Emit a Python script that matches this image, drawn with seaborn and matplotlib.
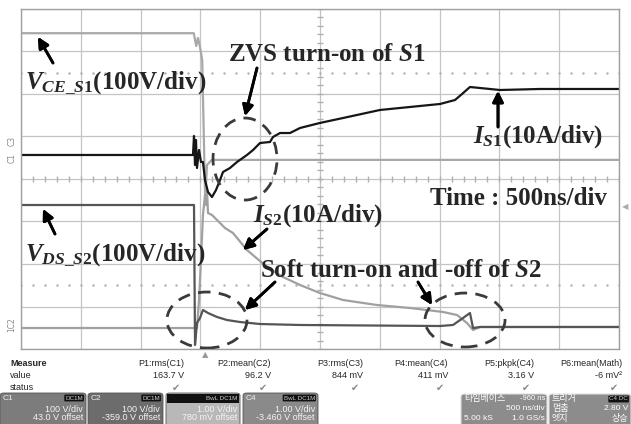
import numpy as np
import pandas as pd
import seaborn as sns
import matplotlib.pyplot as plt
from matplotlib.patches import Ellipse, FancyBboxPatch, Rectangle

# ---- trace data (x in time divisions 0..10, y in vertical divisions 0..8) ----
vce_t = [0, 2.89, 2.93, 2.96, 2.99, 3.03, 3.08, 3.11, 3.19, 10]
vce_v = [7.43, 7.43, 7.13, 7.32, 7.13, 6.80, 3.50, 4.33, 4.45, 4.45]

is1_t = [0, 2.876, 2.893, 2.910, 2.926, 2.943, 2.977, 3.010, 3.043, 3.077, 3.127, 3.194,
         3.261, 3.328, 3.378, 3.495, 3.612, 3.779, 3.880, 3.997, 4.164, 4.214, 4.331,
         4.498, 4.666, 4.997, 5.385, 6.003, 6.672, 7.007, 7.258, 7.375, 7.508, 7.676,
         8.010, 8.679, 10]
is1_v = [4.565, 4.565, 5.012, 4.329, 4.918, 4.259, 4.682, 4.400, 4.400, 3.976, 3.694, 3.576,
         3.741, 3.976, 4.165, 4.259, 4.400, 4.565, 4.682, 4.847, 4.871, 4.988, 5.082,
         5.082, 5.200, 5.318, 5.435, 5.624, 5.718, 5.765, 5.859, 6.000, 6.165, 6.141,
         6.094, 6.118, 6.118]

is2_t = [0, 2.943, 2.977, 3.010, 3.043, 3.077, 3.094, 3.110, 3.127, 3.194, 3.278, 3.411,
         3.545, 3.779, 4.114, 4.381, 4.666, 4.997, 5.385, 5.953, 6.505, 7.057, 7.291,
         7.458, 7.559, 7.676, 10]
is2_v = [0.494, 0.494, 1.153, 2.094, 3.153, 3.624, 3.388, 3.741, 3.200, 3.153, 3.035, 2.847,
         2.729, 2.329, 1.929, 1.694, 1.506, 1.318, 1.153, 1.035, 0.965, 0.871, 0.800,
         0.612, 0.447, 0.518, 0.518]

vds_t = [0, 2.893, 2.910, 2.943, 2.993, 3.043, 3.127, 3.278, 3.445, 3.662, 3.997, 4.666,
         7.007, 7.224, 7.391, 7.508, 7.559, 7.676, 10]
vds_v = [3.388, 3.388, 0.094, 0.612, 0.729, 0.918, 0.847, 0.753, 0.682, 0.635, 0.588, 0.565,
         0.541, 0.565, 0.729, 0.847, 0.494, 0.518, 0.518]

meas_head = ['P1:rms(C1)', 'P2:mean(C2)', 'P3:rms(C3)', 'P4:mean(C4)', 'P5:pkpk(C4)', 'P6:mean(Math)']
meas_val = ['163.7 V', '96.2 V', '844 mV', '411 mV', '3.16 V', '-6 mV²']

W, H = 631, 424
def fx(x):
    return x / W
def fy(y):
    return 1 - y / H

sns.set_style("white")
plt.rcParams['mathtext.fontset'] = 'custom'
plt.rcParams['mathtext.it'] = 'Liberation Serif:style=italic:weight=bold'
plt.rcParams['mathtext.rm'] = 'Liberation Serif:weight=bold'
plt.rcParams['mathtext.bf'] = 'Liberation Serif:weight=bold'

fig = plt.figure(figsize=(6.31, 4.24), dpi=100)
ax = fig.add_axes([fx(21), 75 / H, 598 / W, 340 / H])

# traces
sns.lineplot(x=vce_t, y=vce_v, ax=ax, color='#a8a8a8', lw=1.6, sort=False, estimator=None)
sns.lineplot(x=is2_t, y=is2_v, ax=ax, color='#a0a0a0', lw=1.6, sort=False, estimator=None)
sns.lineplot(x=vds_t, y=vds_v, ax=ax, color='#555555', lw=1.6, sort=False, estimator=None)
sns.lineplot(x=is1_t, y=is1_v, ax=ax, color='#161616', lw=1.6, sort=False, estimator=None)

ax.set_xlim(0, 10)
ax.set_ylim(0, 8)
ax.set_xticks(range(11))
ax.set_yticks(range(9))
ax.set_xticklabels([])
ax.set_yticklabels([])
ax.tick_params(length=0)
ax.grid(True, color='#c4c4c4', lw=0.9)
ax.set_axisbelow(True)
for s in ax.spines.values():
    s.set_color('#a0a0a0')
    s.set_linewidth(1.0)

# centre lines with minor ticks, dotted reference lines
mt = np.arange(0, 10.01, 0.2)
ax.plot(mt, np.full(len(mt), 4), ls='none', marker='|', ms=4, color='#b0b0b0', zorder=1)
mv = np.arange(0, 8.01, 0.2)
ax.plot(np.full(len(mv), 5), mv, ls='none', marker='_', ms=4, color='#b0b0b0', zorder=1)
for yy in [1.5, 6.5]:
    ax.plot(mt, np.full(len(mt), yy), ls='none', marker='.', ms=1.5, color='#b0b0b0', zorder=1)

# dashed ellipses
for cx, cy, ew, eh in [(3.746, 4.47, 1.07, 1.93), (3.110, 0.682, 1.338, 1.318), (7.425, 0.682, 1.338, 1.27)]:
    ax.add_patch(Ellipse((cx, cy), ew, eh, fill=False, ls=(0, (4.5, 3)), lw=2.0, color='#3a3a3a', zorder=5))

# annotations
serif = 'Liberation Serif'
def lab(x, y, s, size=18):
    fig.text(fx(x), fy(y), s, family=serif, weight='bold', fontsize=size, va='baseline', ha='left')

lab(25, 88, r'$\mathit{V}_{\mathit{CE\_S1}}$(100V/div)')
lab(228, 61, r'ZVS turn-on of $\mathit{S1}$')
lab(473, 143, r'$\mathit{I}_{\mathit{S1}}$(10A/div)')
lab(430, 205, 'Time : 500ns/div')
lab(253, 222, r'$\mathit{I}_{\mathit{S2}}$(10A/div)')
lab(25, 260, r'$\mathit{V}_{\mathit{DS\_S2}}$(100V/div)')
lab(260, 277, r'Soft turn-on and -off of $\mathit{S2}$')

arrows = [((53, 63), (38, 37)), ((257, 68), (245, 116)), ((498, 127), (498, 91)),
          ((267, 229), (243, 250)), ((55, 234), (43, 209)), ((275, 282), (245, 310)),
          ((418, 282), (432, 305))]
for (x0, y0), (x1, y1) in arrows:
    fig.add_artist(plt.annotate('', xy=(fx(x1), fy(y1)), xytext=(fx(x0), fy(y0)),
                                xycoords='figure fraction', textcoords='figure fraction',
                                arrowprops=dict(arrowstyle='-|>', lw=2.0, color='black',
                                                mutation_scale=16, shrinkA=0, shrinkB=0)))

# channel markers at the left and trigger markers
for t, y in [('C3', 141), ('C1', 158), ('1C2', 325)]:
    fig.text(fx(12), fy(y), t, fontsize=5.5, color='#888888', rotation=90, ha='center', va='center')
fig.text(fx(205), fy(355), '▲', fontsize=6, color='#999999', ha='center', va='center')
fig.text(fx(625), fy(207), '◀', fontsize=6, color='#aaaaaa', ha='center', va='center')

# measurement table
sans = 'Liberation Sans'
fig.text(fx(10), fy(364), 'Measure', family=sans, fontsize=6.5, weight='bold', va='center')
fig.text(fx(10), fy(376), 'value', family=sans, fontsize=6.5, va='center')
fig.text(fx(10), fy(388), 'status', family=sans, fontsize=6.5, va='center')
col_right = [184, 271, 363, 448, 534, 622]
for xr, h, v in zip(col_right, meas_head, meas_val):
    fig.text(fx(xr), fy(364), h, family=sans, fontsize=6.5, ha='right', va='center')
    fig.text(fx(xr), fy(376), v, family=sans, fontsize=6.5, ha='right', va='center')
    fig.text(fx(xr - 8), fy(388), '✔', fontsize=7, color='#8a8a8a', ha='center', va='center')

# channel boxes
boxes = [('C1', 0, 86, '#7c7c7c', '100 V/div', '43.0 V offset', 'DC1M'),
         ('C2', 88, 163, '#6c6c6c', '100 V/div', '-359.0 V offset', 'DC1M'),
         ('C3', 166, 240, '#b8b8b8', '1.00 V/div', '780 mV offset', 'BwL DC1M'),
         ('C4', 243, 318, '#8a8a8a', '1.00 V/div', '-3.460 V offset', 'BwL DC1M')]
for name, x0, x1, col, vdiv, off, badge in boxes:
    fig.add_artist(FancyBboxPatch((fx(x0), fy(430)), fx(x1 - x0), (430 - 393) / H,
                                  boxstyle='round,pad=0,rounding_size=0.006',
                                  transform=fig.transFigure, fc=col, ec='#555555', lw=0.6))
    if name == 'C3':
        fig.add_artist(Rectangle((fx(x0 + 1), fy(403)), fx(x1 - x0 - 2), 9 / H,
                                 transform=fig.transFigure, fc='#111111', ec='none'))
    else:
        fig.text(fx(x0 + 3), fy(398), name, family=sans, fontsize=6, color='#eeeeee', va='center')
    fig.text(fx(x1 - 3), fy(398), badge, family=sans, fontsize=4.5, color='#cccccc', ha='right', va='center',
             bbox=dict(boxstyle='round,pad=0.15', fc='#111111', ec='none'))
    fig.text(fx(x1 - 3), fy(409), vdiv, family=sans, fontsize=6.5, color='#f4f4f4', ha='right', va='center')
    fig.text(fx(x1 - 3), fy(418), off, family=sans, fontsize=6.5, color='#f4f4f4', ha='right', va='center')

kr = ['Noto Sans CJK KR', 'DejaVu Sans']
fig.add_artist(FancyBboxPatch((fx(461), fy(430)), fx(86), (430 - 394) / H,
                              boxstyle='round,pad=0,rounding_size=0.006',
                              transform=fig.transFigure, fc='#8c8c8c', ec='#dddddd', lw=0.8))
fig.text(fx(464), fy(399), '타임베이스', family=kr, fontsize=6.5, color='white', va='center')
fig.text(fx(545), fy(399), '-960 ns', family=sans, fontsize=5.5, color='white', ha='right', va='center')
fig.text(fx(545), fy(409), '500 ns/div', family=sans, fontsize=6, color='white', ha='right', va='center')
fig.text(fx(464), fy(418), '5.00 kS', family=sans, fontsize=6, color='white', va='center')
fig.text(fx(545), fy(418), '1.0 GS/s', family=sans, fontsize=6, color='white', ha='right', va='center')

fig.add_artist(FancyBboxPatch((fx(549), fy(430)), fx(82), (430 - 394) / H,
                              boxstyle='round,pad=0,rounding_size=0.006',
                              transform=fig.transFigure, fc='#8c8c8c', ec='#dddddd', lw=0.8))
fig.text(fx(552), fy(399), '트리거', family=kr, fontsize=6.5, color='white', va='center')
fig.text(fx(628), fy(399), 'C4 DC', family=sans, fontsize=4.5, color='#cccccc', ha='right', va='center',
         bbox=dict(boxstyle='round,pad=0.15', fc='#111111', ec='none'))
fig.text(fx(552), fy(409), '멈춤', family=kr, fontsize=6.5, color='white', va='center')
fig.text(fx(628), fy(409), '2.80 V', family=sans, fontsize=6, color='white', ha='right', va='center')
fig.text(fx(552), fy(418), '엣지', family=kr, fontsize=6.5, color='white', va='center')
fig.text(fx(628), fy(418), '상승', family=kr, fontsize=6.5, color='white', ha='right', va='center')

fig.savefig('out.png', dpi=100)
